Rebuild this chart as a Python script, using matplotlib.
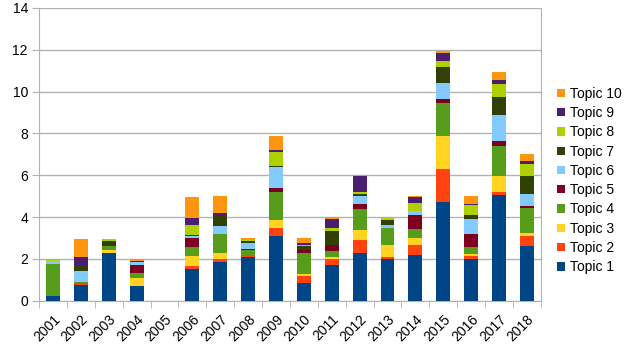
import matplotlib
matplotlib.use("Agg")
import matplotlib.pyplot as plt
from matplotlib.patches import Patch
import numpy as np

# --- DATA ---
years = [str(y) for y in range(2001, 2019)]
topic_1 = [0.25, 0.76, 2.28, 0.73, 0, 1.53, 1.88, 2.09, 3.12, 0.84, 1.72, 2.28, 2.0, 2.2, 4.73, 2.0, 5.06, 2.6]
topic_2 = [0, 0.08, 0, 0, 0, 0.13, 0.14, 0.11, 0.38, 0.37, 0.29, 0.64, 0.11, 0.45, 1.56, 0.14, 0.13, 0.48]
topic_3 = [0, 0, 0.16, 0.35, 0, 0.46, 0.25, 0, 0.38, 0.08, 0.08, 0.48, 0.56, 0.35, 1.61, 0.08, 0.8, 0.16]
topic_4 = [1.5, 0.05, 0.19, 0.27, 0, 0.45, 0.92, 0.24, 1.34, 0.99, 0.3, 0.99, 0.8, 0.45, 1.55, 0.37, 1.39, 1.19]
topic_5 = [0, 0, 0, 0.37, 0, 0.41, 0, 0.05, 0.19, 0.13, 0.29, 0.25, 0, 0.64, 0.22, 0.61, 0.24, 0.11]
topic_6 = [0.15, 0.56, 0, 0.13, 0, 0.13, 0.38, 0.29, 1.0, 0, 0, 0.35, 0.16, 0.19, 0.76, 0.72, 1.27, 0.57]
topic_7 = [0, 0.25, 0.25, 0, 0, 0.05, 0.53, 0.1, 0.05, 0.19, 0.64, 0.11, 0.21, 0, 0.76, 0.16, 0.83, 0.88]
topic_8 = [0.1, 0, 0.06, 0, 0, 0.45, 0, 0.05, 0.64, 0.05, 0.16, 0.1, 0.16, 0.4, 0.27, 0.48, 0.64, 0.54]
topic_9 = [0, 0.38, 0, 0.06, 0, 0.35, 0.08, 0, 0.11, 0.13, 0.43, 0.75, 0, 0.27, 0.37, 0.06, 0.21, 0.13]
topic_10 = [0, 0.86, 0, 0.08, 0, 0.99, 0.81, 0.08, 0.68, 0.24, 0.1, 0.06, 0, 0.08, 0.11, 0.4, 0.35, 0.35]

series = [topic_1, topic_2, topic_3, topic_4, topic_5,
          topic_6, topic_7, topic_8, topic_9, topic_10]
labels = [f"Topic {i}" for i in range(1, 11)]

# --- STYLE ---
COLORS = ["#004586", "#ff420e", "#ffd320", "#579d1c", "#7e0021",
          "#83caff", "#314004", "#aecf00", "#4b1f6f", "#ff950e"]
GRID = "#b3b3b3"
plt.rcParams["font.family"] = ["Liberation Sans", "DejaVu Sans"]
plt.rcParams["font.size"] = 10

fig = plt.figure(figsize=(6.4, 3.59), dpi=100)
ax = fig.add_axes([0.061, 0.162, 0.784, 0.816])

x = np.arange(len(years))
bottom = np.zeros(len(years))
for vals, col in zip(series, COLORS):
    ax.bar(x, vals, width=0.5, bottom=bottom, color=col, zorder=3)
    bottom += np.array(vals)

ax.set_xlim(-0.5, len(years) - 0.5)
ax.set_ylim(0, 14)
ax.set_yticks(range(0, 15, 2))
ax.yaxis.grid(True, color=GRID, linewidth=1, zorder=0)

# labels at centres, tick marks at category boundaries
ax.set_xticks(x)
ax.set_xticklabels(years, rotation=45, ha="right", rotation_mode="anchor")
ax.set_xticks(np.arange(-0.5, len(years)), minor=True)
ax.tick_params(axis="x", which="major", length=0, pad=8)
ax.tick_params(axis="x", which="minor", length=5, color=GRID)
ax.tick_params(axis="y", length=5, color=GRID, pad=3)

for side in ["left", "bottom", "right"]:
    ax.spines[side].set_color(GRID)
ax.spines["top"].set_visible(False)

handles = [Patch(facecolor=c, label=l) for c, l in zip(COLORS, labels)]
fig.legend(handles[::-1], labels[::-1], loc="center left",
           bbox_to_anchor=(0.862, 0.497), frameon=False,
           handlelength=0.55, handleheight=0.55, handletextpad=0.4,
           labelspacing=0.38, borderaxespad=0)

fig.savefig("out.png", dpi=100)
